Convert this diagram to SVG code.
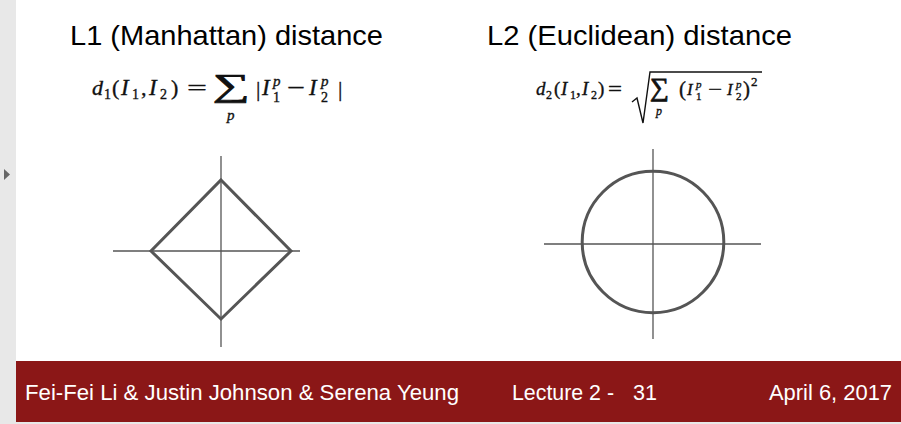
<svg xmlns="http://www.w3.org/2000/svg" width="901" height="424" viewBox="0 0 901 424">
<style>
.title{font-family:"Liberation Sans",Arial,sans-serif;font-size:28px;fill:#000}
.foot{font-family:"Liberation Sans",Arial,sans-serif;font-size:22px;fill:#fff}
.m{font-family:"Liberation Serif","Times New Roman",serif;fill:#111;stroke:#111;stroke-width:0.35}
.i{font-style:italic}
.sig{stroke-width:0.8}
.axis{stroke:#555;stroke-width:1.3;fill:none}
.shape{stroke:#555;stroke-width:3;fill:none}
</style>
<rect x="0" y="0" width="901" height="424" fill="#fff"/>
<g id="side-strip">
<rect x="0" y="0" width="16" height="424" fill="#e8e8e8"/>
<polygon points="4,169 10,174.5 4,180" fill="#666"/>
</g>
<g id="l1-title"><text class="title" x="70" y="45" textLength="313" lengthAdjust="spacingAndGlyphs">L1 (Manhattan) distance</text></g>
<g id="l2-title"><text class="title" x="487" y="45" textLength="305" lengthAdjust="spacingAndGlyphs">L2 (Euclidean) distance</text></g>
<g id="l1-formula">
<text class="m i" x="92" y="95" font-size="22">d</text>
<text class="m" x="104" y="99" font-size="14">1</text>
<text class="m" x="112" y="95" font-size="22">(</text>
<text class="m i" x="121" y="95" font-size="23">I</text>
<text class="m" x="132" y="99" font-size="14">1</text>
<text class="m" x="141" y="95" font-size="22">,</text>
<text class="m i" x="149" y="95" font-size="23">I</text>
<text class="m" x="160" y="99" font-size="14">2</text>
<text class="m" x="171" y="95" font-size="22">)</text>
<text class="m" x="187" y="95" font-size="22" textLength="20" lengthAdjust="spacingAndGlyphs">=</text>
<text class="m sig" x="213" y="96" font-size="32" textLength="37" lengthAdjust="spacingAndGlyphs">∑</text>
<text class="m i" x="227" y="120" font-size="15">p</text>
<text class="m" x="256" y="96" font-size="22">|</text>
<text class="m i" x="262" y="95" font-size="23">I</text>
<text class="m i" x="273" y="86" font-size="15">p</text>
<text class="m" x="273" y="102" font-size="14">1</text>
<text class="m" x="287" y="95" font-size="22" textLength="18" lengthAdjust="spacingAndGlyphs">−</text>
<text class="m i" x="309" y="95" font-size="23">I</text>
<text class="m i" x="321" y="86" font-size="15">p</text>
<text class="m" x="321" y="102" font-size="14">2</text>
<text class="m" x="338" y="96" font-size="22">|</text>
</g>
<g id="l2-formula">
<text class="m i" x="536" y="95" font-size="19">d</text>
<text class="m" x="546" y="99" font-size="12">2</text>
<text class="m" x="554" y="95" font-size="19">(</text>
<text class="m i" x="561" y="95" font-size="19">I</text>
<text class="m" x="570" y="99" font-size="12">1</text>
<text class="m" x="576" y="95" font-size="19">,</text>
<text class="m i" x="582" y="95" font-size="19">I</text>
<text class="m" x="591" y="99" font-size="12">2</text>
<text class="m" x="598" y="95" font-size="19">)</text>
<text class="m" x="608" y="95" font-size="19" textLength="14" lengthAdjust="spacingAndGlyphs">=</text>
<path d="M632,102 L637,98 L643,123 L650,72 L762,72" fill="none" stroke="#111" stroke-width="1.4"/>
<text class="m sig" x="650" y="96" font-size="26" textLength="19" lengthAdjust="spacingAndGlyphs">∑</text>
<text class="m i" x="656" y="115" font-size="12">p</text>
<text class="m" x="679" y="96" font-size="21">(</text>
<text class="m i" x="687" y="95" font-size="17">I</text>
<text class="m i" x="696" y="88" font-size="11">p</text>
<text class="m" x="696" y="100" font-size="11">1</text>
<text class="m" x="708" y="95" font-size="17" textLength="14" lengthAdjust="spacingAndGlyphs">−</text>
<text class="m i" x="727" y="95" font-size="17">I</text>
<text class="m i" x="736" y="88" font-size="11">p</text>
<text class="m" x="736" y="100" font-size="11">2</text>
<text class="m" x="743" y="96" font-size="21">)</text>
<text class="m" x="751" y="86" font-size="13">2</text>
</g>
<g id="l1-diagram">
<line class="axis" x1="221" y1="156" x2="221" y2="347"/>
<line class="axis" x1="113" y1="251" x2="300" y2="251"/>
<polygon class="shape" points="221,180 291,251 221,319 151,251"/>
</g>
<g id="l2-diagram">
<line class="axis" x1="653" y1="149" x2="653" y2="339"/>
<line class="axis" x1="544" y1="244" x2="761" y2="244"/>
<circle class="shape" cx="653" cy="242" r="70.8"/>
</g>
<g id="footer">
<rect x="16" y="361" width="885" height="61" fill="#8b1717"/>
<rect x="16" y="422" width="885" height="2" fill="#e8e8e8"/>
<text class="foot" x="25" y="400" textLength="434" lengthAdjust="spacingAndGlyphs">Fei-Fei Li &amp; Justin Johnson &amp; Serena Yeung</text>
<text class="foot" x="512" y="400" textLength="102" lengthAdjust="spacingAndGlyphs">Lecture 2 -</text>
<text class="foot" x="633" y="400" textLength="24" lengthAdjust="spacingAndGlyphs">31</text>
<text class="foot" x="769" y="400" textLength="123" lengthAdjust="spacingAndGlyphs">April 6, 2017</text>
</g>
</svg>
